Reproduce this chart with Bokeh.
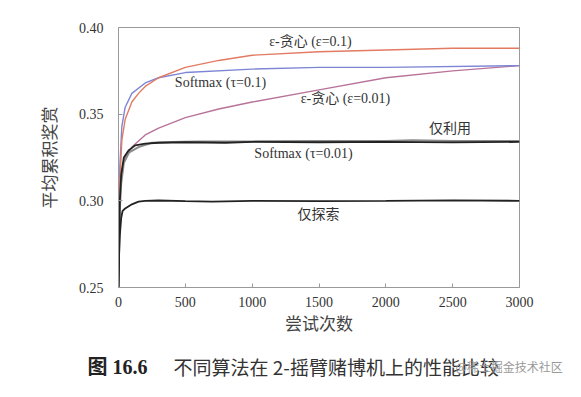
from bokeh.plotting import figure
from bokeh.models import Range1d, FixedTicker, PrintfTickFormatter, Label
from bokeh.layouts import column
from bokeh.embed import file_html
from bokeh.resources import INLINE

# ---- data ----
x_eg01 = [0, 10, 25, 50, 100, 150, 200, 300, 500, 750, 1000, 1500, 2000, 2500, 3000]
y_eg01 = [0.26, 0.31, 0.335, 0.347, 0.357, 0.362, 0.366, 0.371, 0.377, 0.381, 0.384, 0.386, 0.387, 0.388, 0.388]

x_sm01 = [0, 10, 25, 50, 100, 200, 300, 500, 1000, 1500, 2000, 3000]
y_sm01 = [0.26, 0.32, 0.343, 0.354, 0.362, 0.368, 0.371, 0.374, 0.376, 0.377, 0.377, 0.378]

x_eg001 = [0, 10, 25, 50, 100, 200, 300, 500, 750, 1000, 1500, 2000, 2500, 3000]
y_eg001 = [0.26, 0.305, 0.318, 0.325, 0.331, 0.338, 0.342, 0.348, 0.353, 0.357, 0.364, 0.371, 0.375, 0.378]

x_sm001 = [0, 5, 10, 20, 40, 75, 125, 200, 300, 500, 800, 1000, 1500, 2000, 2500, 3000]
y_sm001 = [0.25, 0.28, 0.30, 0.315, 0.325, 0.329, 0.332, 0.333, 0.3335, 0.3338, 0.3335, 0.334, 0.3338, 0.334, 0.3337, 0.334]

x_exploit = [0, 5, 10, 20, 40, 80, 150, 250, 400, 600, 1000, 1500, 2000, 2200, 2500, 3000]
y_exploit = [0.25, 0.275, 0.295, 0.31, 0.322, 0.328, 0.331, 0.3335, 0.334, 0.3342, 0.3343, 0.3345, 0.3345, 0.335, 0.3345, 0.3345]

x_explore = [0, 5, 10, 20, 30, 50, 100, 150, 200, 300, 500, 700, 1000, 1500, 2000, 2500, 3000]
y_explore = [0.25, 0.27, 0.28, 0.29, 0.294, 0.2956, 0.298, 0.2995, 0.300, 0.3002, 0.2998, 0.2996, 0.300, 0.2998, 0.300, 0.3003, 0.300]

x_ticks = [0, 500, 1000, 1500, 2000, 2500, 3000]
y_ticks = [0.25, 0.30, 0.35, 0.40]

SERIF = "Liberation Serif, Noto Sans CJK SC"
CJK = "Noto Sans CJK SC"

p = figure(width=565, height=340, output_backend="svg", toolbar_location=None,
           x_range=Range1d(0, 3000), y_range=Range1d(0.25, 0.40),
           min_border_left=118, min_border_right=46, min_border_top=27, min_border_bottom=53)
p.frame_align = False

p.background_fill_color = "white"
p.border_fill_color = "white"
p.outline_line_color = "#9a9a9a"
p.grid.visible = False

p.xaxis.ticker = FixedTicker(ticks=x_ticks)
p.yaxis.ticker = FixedTicker(ticks=y_ticks)
p.yaxis.formatter = PrintfTickFormatter(format="%.2f")
for ax in (p.xaxis[0], p.yaxis[0]):
    ax.axis_line_color = "#9a9a9a"
    ax.major_tick_line_color = "#9a9a9a"
    ax.major_tick_in = 4
    ax.major_tick_out = 0
    ax.minor_tick_line_color = None
    ax.major_label_text_font = "Liberation Serif"
    ax.major_label_text_font_size = "14px"
    ax.major_label_text_color = "#333333"
    ax.axis_label_text_font = CJK
    ax.axis_label_text_font_size = "17px"
    ax.axis_label_text_font_style = "normal"
    ax.axis_label_text_color = "#444444"

p.xaxis.axis_label = "尝试次数"
p.yaxis.axis_label = "平均累积奖赏"
p.xaxis.major_label_standoff = 9
p.xaxis.axis_label_standoff = 0
p.yaxis.major_label_standoff = 15
p.yaxis.axis_label_standoff = 15

p.line(x_eg001, y_eg001, line_color="#b8739a", line_width=1.4)
p.line(x_sm01, y_sm01, line_color="#7d86d4", line_width=1.4)
p.line(x_eg01, y_eg01, line_color="#e27b62", line_width=1.4)
p.line(x_exploit, y_exploit, line_color="#8a8a8a", line_width=2)
p.line(x_sm001, y_sm001, line_color="#222222", line_width=1.8)
p.line(x_explore, y_explore, line_color="#222222", line_width=1.8)

def lab(x, y, t, font=SERIF, size="14px"):
    p.add_layout(Label(x=x, y=y, text=t, text_font=font, text_font_size=size,
                       text_color="#333333", text_align="center", text_baseline="middle"))

lab(1436, 0.392, "ε-贪心 (ε=0.1)")
lab(763, 0.3683, "Softmax (τ=0.1)")
lab(1698, 0.359, "ε-贪心 (ε=0.01)")
lab(2480, 0.3425, "仅利用", CJK)
lab(1384, 0.3273, "Softmax (τ=0.01)")
lab(1496, 0.2927, "仅探索", CJK)

# caption strip below the chart
cap = figure(width=565, height=41, output_backend="svg", toolbar_location=None,
             x_range=Range1d(0, 565), y_range=Range1d(0, 41),
             min_border=0, min_border_left=0, min_border_right=0,
             min_border_top=0, min_border_bottom=0)
cap.frame_align = False
cap.axis.visible = False
cap.grid.visible = False
cap.outline_line_color = None
cap.background_fill_color = "white"
cap.border_fill_color = "white"

cap.add_layout(Label(x=87, y=15, x_units="screen", y_units="screen", text="图 16.6",
                     text_font=SERIF, text_font_size="20px", text_font_style="bold",
                     text_color="#222222", text_baseline="middle"))
cap.add_layout(Label(x=173, y=15, x_units="screen", y_units="screen",
                     text="不同算法在 2-摇臂赌博机上的性能比较",
                     text_font=CJK, text_font_size="19px",
                     text_color="#333333", text_baseline="middle"))
cap.add_layout(Label(x=455, y=15, x_units="screen", y_units="screen",
                     text="@稀土掘金技术社区",
                     text_font=CJK, text_font_size="12px",
                     text_color="#999999", text_baseline="middle"))

layout = column(p, cap, spacing=0)
open("out.html", "w").write(file_html(layout, INLINE))
